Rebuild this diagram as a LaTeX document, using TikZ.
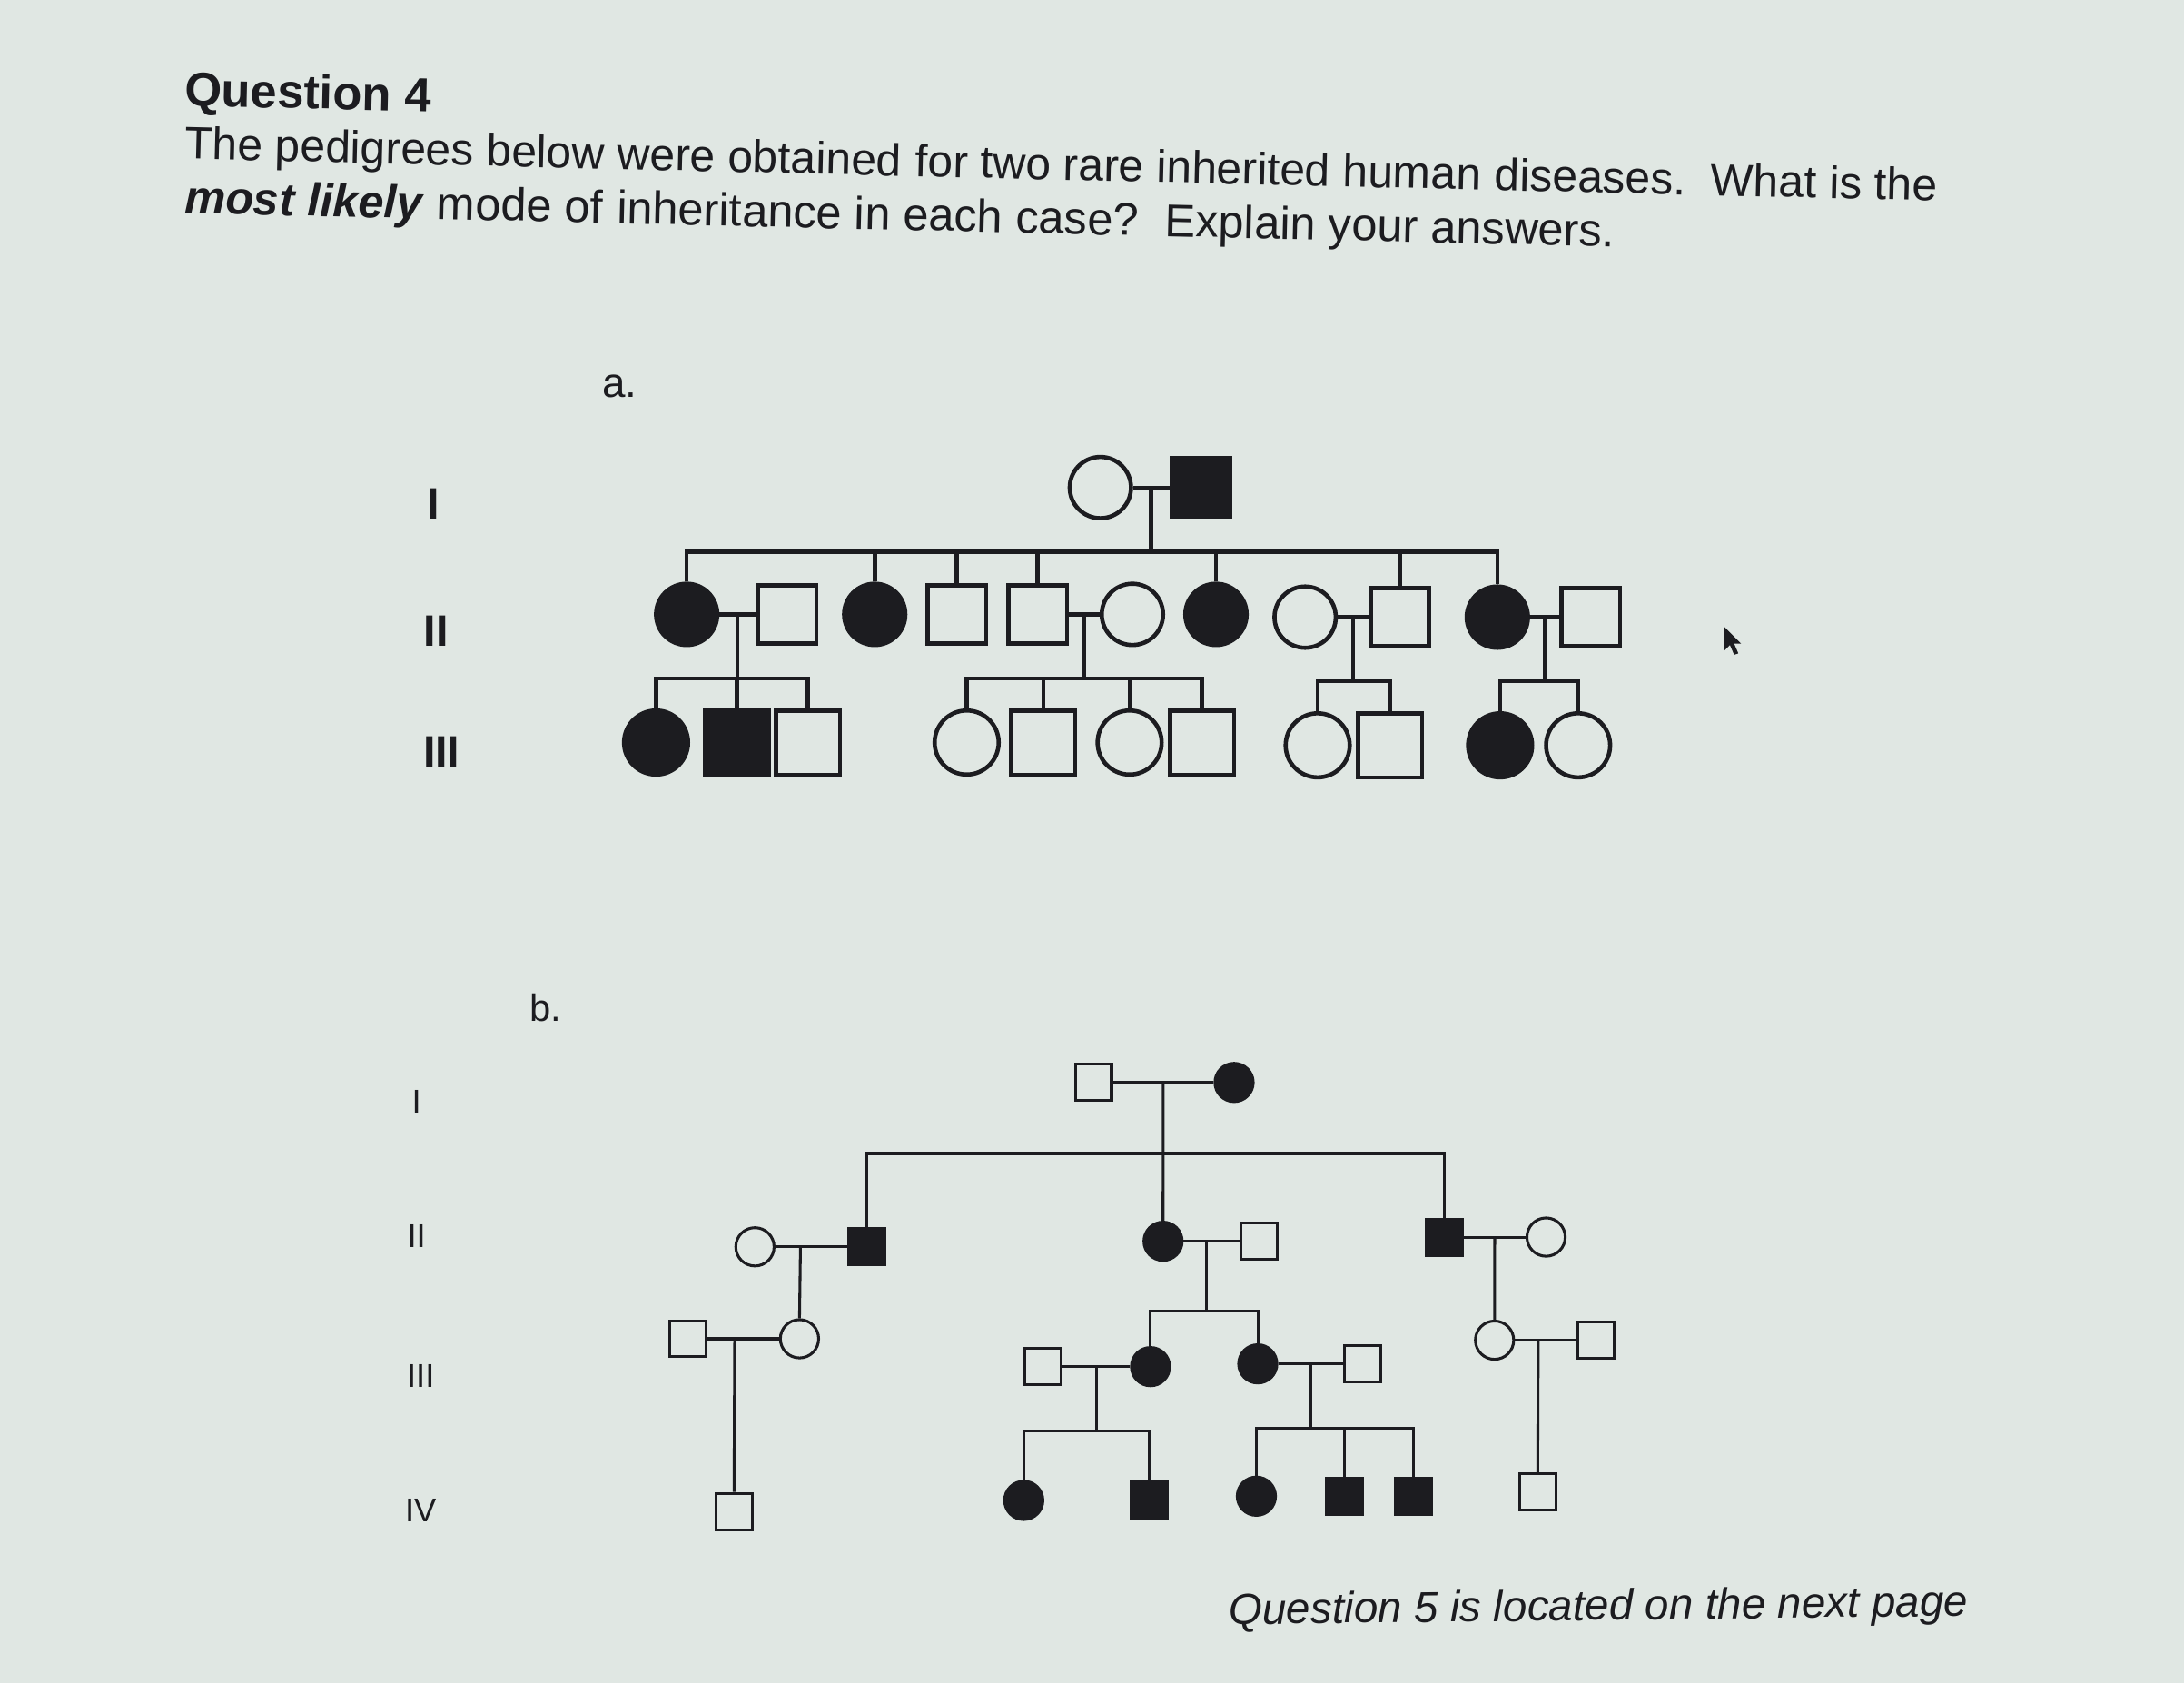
\documentclass[tikz,border=0pt]{standalone}
\usepackage{fontspec}
\setmainfont{Liberation Sans}
\usetikzlibrary{calc}
\definecolor{bgc}{RGB}{224,231,227}
\definecolor{ink}{RGB}{28,28,32}
\begin{document}
\begin{tikzpicture}[x=0.02cm,y=-0.02cm,
  ca/.style={circle, draw=ink, line width=0.06cm, inner sep=0pt, minimum size=0.88cm},
  cfa/.style={ca, fill=ink},
  sa/.style={rectangle, draw=ink, line width=0.06cm, inner sep=0pt, minimum size=0.84cm},
  sfa/.style={sa, fill=ink},
  bigg/.style={minimum size=0.92cm},
  cb/.style={circle, draw=ink, line width=0.04cm, inner sep=0pt, minimum size=0.55cm},
  cfb/.style={cb, fill=ink},
  sb/.style={rectangle, draw=ink, line width=0.04cm, inner sep=0pt, minimum size=0.52cm},
  sfb/.style={sb, fill=ink},
  la/.style={draw=ink, line width=0.06cm},
  lb/.style={draw=ink, line width=0.04cm},
  txt/.style={inner sep=0pt, text=ink},
  lineone/.style={txt, anchor=base west, rotate=-1.37, font=\fontsize{18.5}{22}\selectfont},
  linetwo/.style={txt, anchor=base west, rotate=-1.35, font=\fontsize{18.8}{22}\selectfont},
  gena/.style={txt, font=\fontsize{18}{21}\selectfont\bfseries},
  genb/.style={txt, font=\fontsize{13.5}{16}\selectfont},
]
\useasboundingbox (0,0) rectangle (1568,1208);
\fill[bgc] (0,0) rectangle (1568,1208);

% ---------- text ----------
\node[txt, anchor=base west, rotate=-1.3, font=\fontsize{19.5}{23}\selectfont\bfseries] (q4) at (132,76) {Question 4};
\node[lineone] (l1a) at (132,114) {The pedigrees below were obtained};
\node[lineone] (l1b) at (l1a.base east) {\ for two rare inherited human};
\node[lineone] (l1c) at (l1b.base east) {\ diseases.\ \ What is the};
\node[linetwo] (l2a) at (132,153) {\textbf{\textit{most likely}} mode of};
\node[linetwo] (l2b) at (l2a.base east) {\ inheritance in each case?};
\node[linetwo] (l2c) at (l2b.base east) {\ \ Explain your answers.};
\node[txt, anchor=base west, rotate=0.65, font=\fontsize{17.7}{21}\selectfont\itshape] (q5) at (882,1166) {Question 5 is located on the next page};

\node[txt, anchor=base west, font=\fontsize{17}{20}\selectfont] (la) at (432,285) {a.};
\node[txt, anchor=base west, font=\fontsize{15.5}{18}\selectfont] (lbb) at (380,733) {b.};

\node[gena] (gaI) at (311,362) {I};
\node[gena] (gaII) at (313,453) {II};
\node[gena] (gaIII) at (317,540) {III};

\node[genb] (gbI) at (299,791) {I};
\node[genb] (gbII) at (299,887) {II};
\node[genb] (gbIII) at (302,988) {III};
\node[genb] (gbIV) at (302,1084) {IV};

% ---------- pedigree a ----------
\node[ca]  (aI1) at (790,350) {};
\node[sfa] (aI2) at (862,350) {};

\node[cfa] (aA1)  at (493,441) {};
\node[sa]  (aA2)  at (565,441) {};
\node[cfa] (aA3)  at (628,441) {};
\node[sa]  (aA4)  at (687,441) {};
\node[sa]  (aA5)  at (745,441) {};
\node[ca]  (aA6)  at (813,441) {};
\node[cfa] (aA7)  at (873,441) {};
\node[ca]  (aA8)  at (937,443) {};
\node[sa]  (aA9)  at (1005,443) {};
\node[cfa] (aA10) at (1075,443) {};
\node[sa]  (aA11) at (1142,443) {};

\node[cfa,bigg] (aB1)  at (471,533) {};
\node[sfa,bigg] (aB2)  at (529,533) {};
\node[sa,bigg]  (aB3)  at (580,533) {};
\node[ca,bigg]  (aB4)  at (694,533) {};
\node[sa,bigg]  (aB5)  at (749,533) {};
\node[ca,bigg]  (aB6)  at (811,533) {};
\node[sa,bigg]  (aB7)  at (863,533) {};
\node[ca,bigg]  (aB8)  at (946,535) {};
\node[sa,bigg]  (aB9)  at (998,535) {};
\node[cfa,bigg] (aB10) at (1077,535) {};
\node[ca,bigg]  (aB11) at (1133,535) {};

% marriages a
\draw[la] (aI1) -- (aI2);
\draw[la] (aA1) -- (aA2);
\draw[la] (aA5) -- (aA6);
\draw[la] (aA8) -- (aA9);
\draw[la] (aA10) -- (aA11);

\coordinate (maI) at ($(aI1.east)!0.5!(aI2.west)$);
\coordinate (baI) at ($(maI)+(0,46)$);
\draw[la] (maI) -- (baI);
\draw[la] (aA1.north) |- (aA10.north |- baI) -- (aA10.north);
\foreach \n in {aA3,aA4,aA5,aA7,aA9} \draw[la] (\n.north) -- (\n.north |- baI);

\coordinate (ma12) at ($(aA1.east)!0.5!(aA2.west)$);
\coordinate (ba12) at ($(ma12)+(0,46)$);
\draw[la] (ma12) -- (ba12);
\draw[la] (aB1.north) |- (aB3.north |- ba12) -- (aB3.north);
\draw[la] (aB2.north) -- (aB2.north |- ba12);

\coordinate (ma56) at ($(aA5.east)!0.5!(aA6.west)$);
\coordinate (ba56) at ($(ma56)+(0,46)$);
\draw[la] (ma56) -- (ba56);
\draw[la] (aB4.north) |- (aB7.north |- ba56) -- (aB7.north);
\foreach \n in {aB5,aB6} \draw[la] (\n.north) -- (\n.north |- ba56);

\coordinate (ma89) at ($(aA8.east)!0.5!(aA9.west)$);
\coordinate (ba89) at ($(ma89)+(0,46)$);
\draw[la] (ma89) -- (ba89);
\draw[la] (aB8.north) |- (aB9.north |- ba89) -- (aB9.north);

\coordinate (ma1011) at ($(aA10.east)!0.5!(aA11.west)$);
\coordinate (ba1011) at ($(ma1011)+(0,46)$);
\draw[la] (ma1011) -- (ba1011);
\draw[la] (aB10.north) |- (aB11.north |- ba1011) -- (aB11.north);

% ---------- pedigree b ----------
\node[sb]  (bP1) at (785,777) {};
\node[cfb] (bP2) at (886,777) {};

\node[cb]  (bQ1) at (542,895) {};
\node[sfb] (bQ2) at (622,895) {};
\node[cfb] (bQ3) at (835,891) {};
\node[sb]  (bQ4) at (904,891) {};
\node[sfb] (bQ5) at (1037,888) {};
\node[cb]  (bQ6) at (1110,888) {};

\node[sb]  (bR1) at (494,961) {};
\node[cb]  (bR2) at (574,961) {};
\node[sb]  (bR3) at (749,981) {};
\node[cfb] (bR4) at (826,981) {};
\node[cfb] (bR6) at (903,979) {};
\node[sb]  (bR7) at (978,979) {};
\node[cb]  (bR8) at (1073,962) {};
\node[sb]  (bR9) at (1146,962) {};

\node[sb]  (bS1) at (527,1085) {};
\node[cfb] (bS2) at (735,1077) {};
\node[sfb] (bS3) at (825,1077) {};
\node[cfb] (bS4) at (902,1074) {};
\node[sfb] (bS5) at (965,1074) {};
\node[sfb] (bS6) at (1015,1074) {};
\node[sb]  (bS7) at (1104,1071) {};

% marriages b
\draw[lb] (bP1) -- (bP2);
\draw[lb] (bQ1) -- (bQ2);
\draw[lb] (bQ3) -- (bQ4);
\draw[lb] (bQ5) -- (bQ6);
\draw[lb] (bR1) -- (bR2);
\draw[lb] (bR3) -- (bR4);
\draw[lb] (bR6) -- (bR7);
\draw[lb] (bR8) -- (bR9);

\coordinate (mbP) at ($(bP1.east)!0.5!(bP2.west)$);
\coordinate (bbP) at ($(mbP)+(0,51)$);
\draw[lb] (mbP) -- (bQ3.north);
\draw[lb] (bQ2.north) |- (bQ5.north |- bbP) -- (bQ5.north);

\coordinate (mbQ12) at ($(bQ1.east)!0.35!(bQ2.west)$);
\draw[lb] (mbQ12) -- (bR2.north);
\coordinate (mbR12) at ($(bR1.east)!0.38!(bR2.west)$);
\draw[lb] (mbR12) -- (bS1.north);

\coordinate (mbQ34) at ($(bQ3.east)!0.4!(bQ4.west)$);
\coordinate (bbQ34) at ($(mbQ34)+(0,50)$);
\draw[lb] (mbQ34) -- (bbQ34);
\draw[lb] (bR4.north) |- (bR6.north |- bbQ34) -- (bR6.north);

\coordinate (mbR34) at ($(bR3.east)!0.5!(bR4.west)$);
\coordinate (bbR34) at ($(mbR34)+(0,46)$);
\draw[lb] (mbR34) -- (bbR34);
\draw[lb] (bS2.north) |- (bS3.north |- bbR34) -- (bS3.north);

\coordinate (mbR67) at ($(bR6.east)!0.5!(bR7.west)$);
\coordinate (bbR67) at ($(mbR67)+(0,46)$);
\draw[lb] (mbR67) -- (bbR67);
\draw[lb] (bS4.north) |- (bS6.north |- bbR67) -- (bS6.north);
\draw[lb] (bS5.north) -- (bS5.north |- bbR67);

\coordinate (mbQ56) at ($(bQ5.east)!0.5!(bQ6.west)$);
\draw[lb] (mbQ56) -- (bR8.north);
\coordinate (mbR89) at ($(bR8.east)!0.375!(bR9.west)$);
\draw[lb] (mbR89) -- (bS7.north);

% mouse pointer
\fill[ink] (1238,450) -- (1238,467) -- (1242,463) -- (1245,470) -- (1248,469) -- (1245,462) -- (1250,462) -- cycle;
\end{tikzpicture}
\end{document}
